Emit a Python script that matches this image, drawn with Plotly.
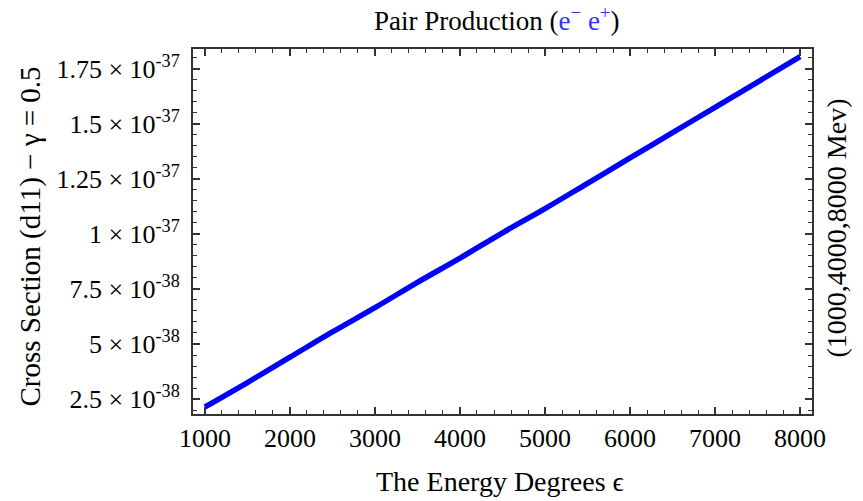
import plotly.graph_objects as go

# Data
energy = [1000, 1500, 2000, 2500, 3000, 3500, 4000, 4500, 5000, 5500, 6000, 6500, 7000, 7500, 8000]
cross_section = [2.14e-38, 3.25e-38, 4.40e-38, 5.55e-38, 6.65e-38, 7.80e-38, 8.90e-38, 1.005e-37,
                 1.115e-37, 1.23e-37, 1.345e-37, 1.46e-37, 1.575e-37, 1.69e-37, 1.805e-37]

x_tickvals = [1000, 2000, 3000, 4000, 5000, 6000, 7000, 8000]
x_ticktext = ["1000", "2000", "3000", "4000", "5000", "6000", "7000", "8000"]
y_tickvals = [2.5e-38, 5e-38, 7.5e-38, 1e-37, 1.25e-37, 1.5e-37, 1.75e-37]
y_ticktext = ["2.5 × 10<sup>-38</sup>", "5 × 10<sup>-38</sup>", "7.5 × 10<sup>-38</sup>",
              "1 × 10<sup>-37</sup>", "1.25 × 10<sup>-37</sup>", "1.5 × 10<sup>-37</sup>",
              "1.75 × 10<sup>-37</sup>"]

FONT = "Liberation Serif"
W, H = 863, 501
L, R, T, B = 193, 51, 49, 87
pw = W - L - R

fig = go.Figure()
fig.add_trace(go.Scatter(x=energy, y=cross_section, mode="lines",
                         line=dict(color="#0000ff", width=5.5), line_shape="spline",
                         showlegend=False, hoverinfo="skip"))

axis_common = dict(showgrid=False, zeroline=False, showline=True, linecolor="#333333",
                   linewidth=2, mirror="ticks", ticks="inside", ticklen=7, tickwidth=1.5,
                   tickcolor="#333333", tickfont=dict(family=FONT, size=26, color="black"))

fig.update_xaxes(range=[860, 8140], tickvals=x_tickvals, ticktext=x_ticktext,
                 minor=dict(ticks="inside", ticklen=4, tickwidth=1, tickcolor="#333333", dtick=200,
                            tick0=0),
                 **axis_common)
fig.update_yaxes(range=[1.82e-38, 1.84e-37], tickvals=y_tickvals, ticktext=y_ticktext,
                 ticklabelstandoff=6,
                 minor=dict(ticks="inside", ticklen=4, tickwidth=1, tickcolor="#333333", dtick=5e-39,
                            tick0=0),
                 **axis_common)

def px_x(p):
    return (p - L) / pw

fig.update_layout(
    width=W, height=H,
    margin=dict(l=L, r=R, t=T, b=B),
    paper_bgcolor="white", plot_bgcolor="white",
    font=dict(family=FONT, color="black"),
    annotations=[
        dict(text="Pair Production (<span style='color:#3333ff'>e<sup>−</sup> e<sup>+</sup></span>)",
             xref="paper", yref="paper", x=px_x(497), y=1, yshift=30, yanchor="middle",
             showarrow=False, font=dict(family=FONT, size=27, color="black")),
        dict(text="The Energy Degrees ϵ",
             xref="paper", yref="paper", x=px_x(500), y=0, yshift=-67, yanchor="middle",
             showarrow=False, font=dict(family=FONT, size=28, color="black")),
        dict(text="Cross Section (d11) − γ = 0.5", textangle=-90,
             xref="paper", yref="paper", x=px_x(30), y=0.5, yshift=-5, xanchor="center",
             yanchor="middle", showarrow=False, font=dict(family=FONT, size=29, color="black")),
        dict(text="(1000,4000,8000 Mev)", textangle=-90,
             xref="paper", yref="paper", x=px_x(836), y=0.5, yshift=3, xanchor="center",
             yanchor="middle", showarrow=False, font=dict(family=FONT, size=28, color="black")),
    ],
)

fig.write_html("out.html")
